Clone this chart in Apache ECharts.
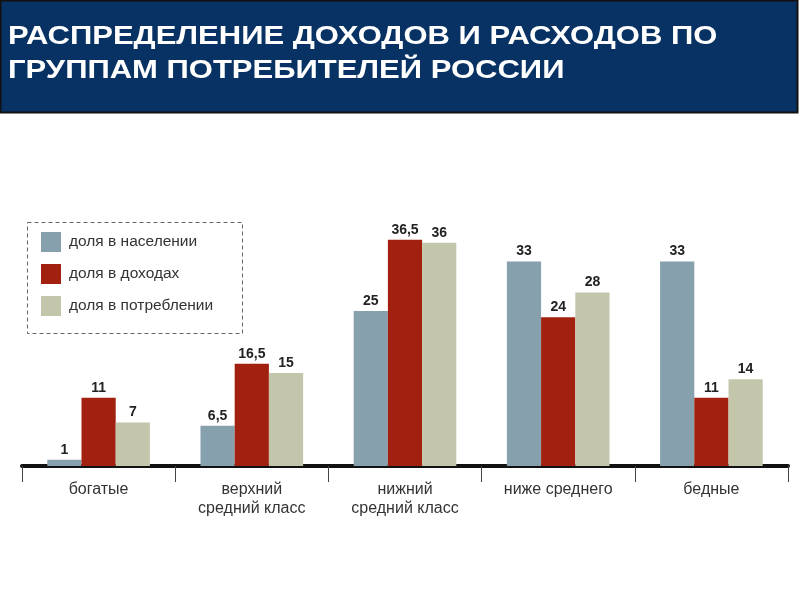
<!DOCTYPE html>
<html>
<head>
<meta charset="utf-8">
<script src="https://cdn.jsdelivr.net/npm/echarts@6/dist/echarts.min.js"></script>
<style>
  html, body { margin: 0; padding: 0; background: #fff; }
  #chart { width: 800px; height: 600px; }
</style>
</head>
<body>
<div id="chart"></div>
<script>
  // категории и значения
  var categories = ['богатые', 'верхний\nсредний класс', 'нижний\nсредний класс', 'ниже среднего', 'бедные']
  var seriesNames = ['доля в населении', 'доля в доходах', 'доля в потреблении']
  var populationShare = [1, 6.5, 25, 33, 33]
  var incomeShare = [11, 16.5, 36.5, 24, 11]
  var consumptionShare = [7, 15, 36, 28, 14]
  var titleLines = ['РАСПРЕДЕЛЕНИЕ ДОХОДОВ И РАСХОДОВ ПО', 'ГРУППАМ ПОТРЕБИТЕЛЕЙ РОССИИ']
  var colors = ['#87a0ae', '#a2200f', '#c4c6ac']

  var chart = echarts.init(document.getElementById('chart'))

  function fmt (p) {
    return String(p.value).replace('.', ',') // запятая вместо точки
  }

  function makeSeries (name, data, color) {
    return {
      name: name,
      type: 'bar',
      data: data,
      barGap: '0%',
      barCategoryGap: '33%',
      itemStyle: { color: color },
      label: {
        show: true,
        position: 'top',
        distance: 3,
        formatter: fmt,
        color: '#222',
        fontFamily: 'Liberation Sans, Arial',
        fontWeight: 'bold',
        fontSize: 14
      },
      silent: true,
      animation: false
    }
  }

  function titleText (text, y) {
    return {
      type: 'text',
      x: 8,
      y: y,
      scaleX: 1.24,
      style: {
        text: text,
        fill: '#fff',
        font: 'bold 25px "Liberation Sans", Arial',
        verticalAlign: 'middle'
      },
      z: 1
    }
  }

  chart.setOption({
    animation: false,
    grid: { left: 22, right: 12, top: 218, bottom: 134 },
    graphic: [
      { // шапка
        type: 'rect',
        shape: { x: 0.5, y: 0.5, width: 797, height: 112 },
        style: { fill: '#083263', stroke: '#111', lineWidth: 2 },
        z: 0
      },
      titleText(titleLines[0], 37),
      titleText(titleLines[1], 71),
      { // рамка легенды
        type: 'rect',
        shape: { x: 27.5, y: 222.5, width: 215, height: 111 },
        style: { fill: 'none', stroke: '#666', lineWidth: 1, lineDash: [4, 3] },
        z: 0
      }
    ],
    legend: {
      orient: 'vertical',
      left: 36,
      top: 227,
      itemWidth: 20,
      itemHeight: 20,
      itemGap: 12,
      icon: 'rect',
      selectedMode: false,
      data: seriesNames,
      textStyle: { color: '#333', fontSize: 15.5, fontFamily: 'Liberation Sans, Arial', padding: [0, 0, 0, 3] }
    },
    xAxis: {
      type: 'category',
      data: categories,
      axisLine: { lineStyle: { color: '#111', width: 4 } },
      axisTick: { show: true, length: 16, lineStyle: { color: '#444', width: 1 } },
      axisLabel: {
        color: '#333',
        fontSize: 16,
        fontFamily: 'Liberation Sans, Arial',
        margin: 14,
        lineHeight: 19
      }
    },
    yAxis: {
      type: 'value',
      min: 0,
      max: 40,
      show: false
    },
    series: [
      makeSeries(seriesNames[0], populationShare, colors[0]),
      makeSeries(seriesNames[1], incomeShare, colors[1]),
      makeSeries(seriesNames[2], consumptionShare, colors[2])
    ]
  })
</script>
</body>
</html>
